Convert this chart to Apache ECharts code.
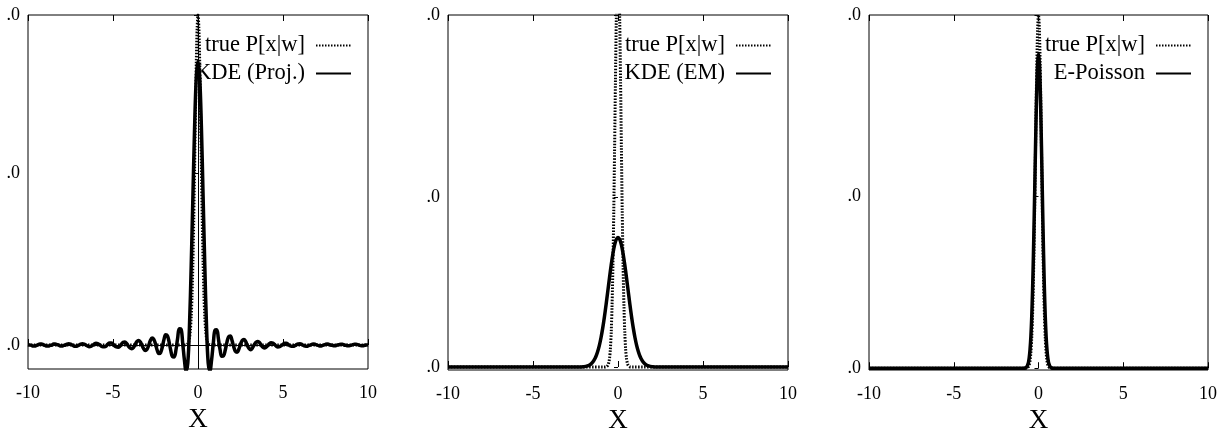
<!DOCTYPE html>
<html>
<head>
<meta charset="utf-8">
<script src="https://cdn.jsdelivr.net/npm/echarts@6/dist/echarts.min.js"></script>
<style>
html, body { margin: 0; padding: 0; background: #fff; }
#chart { width: 1221px; height: 432px; }
</style>
</head>
<body>
<div id="chart"></div>
<script>
// KDE (Proj.), one value every 0.1 from x = -10 to 10
const projStart = -10
const projStep = 0.1
const kdeProj = [
  0.001, 0.000, -0.001, -0.003, -0.003, -0.001, 0.001, 0.003, 0.003, 0.001,
  -0.001, -0.003, -0.003, -0.001, 0.000, 0.003, 0.003, 0.001, 0.000, -0.003,
  -0.003, -0.001, 0.000, 0.003, 0.004, 0.003, 0.000, -0.003, -0.004, -0.003,
  0.000, 0.003, 0.004, 0.003, 0.000, -0.003, -0.005, -0.004, -0.001, 0.003,
  0.005, 0.004, 0.001, -0.003, -0.005, -0.005, -0.003, 0.003, 0.006, 0.006,
  0.003, -0.003, -0.006, -0.007, -0.004, 0.003, 0.008, 0.009, 0.005, -0.003,
  -0.009, -0.011, -0.008, 0.001, 0.010, 0.014, 0.010, 0.000, -0.011, -0.017,
  -0.013, -0.001, 0.014, 0.021, 0.017, 0.003, -0.016, -0.026, -0.023, -0.006,
  0.017, 0.031, 0.028, 0.009, -0.017, -0.035, -0.036, -0.016, 0.020, 0.049,
  0.048, 0.006, -0.045, -0.078, -0.055, 0.06, 0.24, 0.45, 0.66, 0.81,
  0.86,
  0.81, 0.66, 0.45, 0.24, 0.06, -0.055, -0.078, -0.045, 0.005, 0.045,
  0.046, 0.019, -0.015, -0.034, -0.033, -0.016, 0.008, 0.025, 0.027, 0.014,
  -0.005, -0.019, -0.022, -0.013, 0.002, 0.014, 0.017, 0.011, -0.001, -0.010,
  -0.014, -0.009, 0.000, 0.008, 0.011, 0.008, 0.001, -0.006, -0.009, -0.007,
  -0.002, 0.004, 0.007, 0.006, 0.002, -0.003, -0.006, -0.005, -0.002, 0.002,
  0.005, 0.005, 0.002, -0.002, -0.004, -0.004, -0.002, 0.001, 0.003, 0.004,
  0.002, -0.001, -0.003, -0.004, -0.002, 0.000, 0.002, 0.003, 0.002, 0.000,
  -0.002, -0.003, -0.002, 0.000, 0.002, 0.003, 0.002, 0.000, -0.001, -0.002,
  -0.002, 0.000, 0.001, 0.002, 0.002, 0.000, -0.001, -0.002, -0.002, -0.001,
  0.001, 0.002, 0.002, 0.001, -0.001, -0.002, -0.002, -0.001, 0.000, 0.001
]

// true P[x|w]
const truthX = [-10, -0.8, -0.7, -0.6, -0.55, -0.5, -0.45, -0.4, -0.35, -0.3, -0.25, -0.2, -0.15, -0.1, -0.05,
  0, 0.05, 0.1, 0.15, 0.2, 0.25, 0.3, 0.35, 0.4, 0.45, 0.5, 0.55, 0.6, 0.7, 0.8, 10]
const truthY = [0, 0, 0.0005, 0.004, 0.009, 0.021, 0.044, 0.085, 0.151, 0.249, 0.381, 0.539, 0.707, 0.857, 0.962,
  1.0, 0.962, 0.857, 0.707, 0.539, 0.381, 0.249, 0.151, 0.085, 0.044, 0.021, 0.009, 0.004, 0.0005, 0, 0]
// middle panel scale (peak runs past the top)
const truthMidY = [0, 0, 0.0006, 0.0045, 0.011, 0.024, 0.050, 0.097, 0.174, 0.286, 0.438, 0.620, 0.813, 0.986, 1.106,
  1.15, 1.106, 0.986, 0.813, 0.620, 0.438, 0.286, 0.174, 0.097, 0.050, 0.024, 0.011, 0.0045, 0.0006, 0, 0]

// KDE (EM)
const emX = [-10, -2.2, -2.0, -1.9, -1.8, -1.7, -1.6, -1.5, -1.4, -1.3, -1.2, -1.1, -1.0, -0.9, -0.8, -0.7, -0.6,
  -0.5, -0.4, -0.3, -0.2, -0.1, 0, 0.1, 0.2, 0.3, 0.4, 0.5, 0.6, 0.7, 0.8, 0.9, 1.0, 1.1, 1.2, 1.3, 1.4, 1.5,
  1.6, 1.7, 1.8, 1.9, 2.0, 2.2, 10]
const emY = [0, 0, 0.001, 0.0017, 0.003, 0.005, 0.0082, 0.013, 0.020, 0.0298, 0.0433, 0.0609, 0.0832, 0.1104, 0.1422,
  0.1776, 0.2155, 0.2538, 0.2901, 0.3219, 0.3468, 0.3626, 0.368, 0.3626, 0.3468, 0.3219, 0.2901, 0.2538, 0.2155,
  0.1776, 0.1422, 0.1104, 0.0832, 0.0609, 0.0433, 0.0298, 0.020, 0.013, 0.0082, 0.005, 0.003, 0.0017, 0.001, 0, 0]

// E-Poisson
const poissonX = [-10, -0.9, -0.8, -0.7, -0.6, -0.55, -0.5, -0.45, -0.4, -0.35, -0.3, -0.25, -0.2, -0.15, -0.1, -0.05,
  0, 0.05, 0.1, 0.15, 0.2, 0.25, 0.3, 0.35, 0.4, 0.45, 0.5, 0.55, 0.6, 0.7, 0.8, 0.9, 10]
const poissonY = [0, 0, 0.0006, 0.0034, 0.015, 0.0288, 0.0523, 0.0896, 0.145, 0.222, 0.321, 0.438, 0.566, 0.690, 0.795, 0.865,
  0.89, 0.865, 0.795, 0.690, 0.566, 0.438, 0.321, 0.222, 0.145, 0.0896, 0.0523, 0.0288, 0.015, 0.0034, 0.0006, 0, 0]

const yTicksLeft = [0, 0.521, 1]
const yTicksMid = [0, 0.482, 1]
const yTicksRight = [0, 0.486, 1]

const serif = 'Liberation Serif'
const zip = (xs, ys) => xs.map((x, i) => [x, ys[i]])
const projData = kdeProj.map((v, i) => [+(projStart + i * projStep).toFixed(1), v])

const grids = [
  { left: 28, width: 340, top: 15, height: 354 },
  { left: 448, width: 340, top: 15, height: 355 },
  { left: 869, width: 339, top: 15, height: 355 }
]

function xAxes(gi) {
  return [
    {
      gridIndex: gi, type: 'value', min: -10, max: 10, interval: 5,
      name: 'X', nameLocation: 'middle', nameGap: 36,
      nameTextStyle: { fontFamily: serif, fontSize: 27, color: '#000' },
      axisLine: { show: false },
      axisTick: { inside: true, length: 6, lineStyle: { color: '#000' } },
      axisLabel: { fontFamily: serif, fontSize: 18, color: '#000', margin: 15 },
      splitLine: { show: false }
    },
    {
      gridIndex: gi, type: 'value', min: -10, max: 10, interval: 5, position: 'top',
      axisLine: { show: false },
      axisTick: { inside: true, length: 6, lineStyle: { color: '#000' } },
      axisLabel: { show: false },
      splitLine: { show: false }
    }
  ]
}

function yAxis(gi, min, ticks) {
  return {
    gridIndex: gi, type: 'value', min: min, max: 1,
    axisLine: { show: false },
    splitLine: { show: false },
    axisTick: { customValues: ticks, length: 4, lineStyle: { color: '#000' } },
    axisLabel: {
      customValues: ticks, formatter: () => '.0',
      fontFamily: serif, fontSize: 18, color: '#000', margin: 8
    }
  }
}

function legend(right, names) {
  return {
    orient: 'vertical', align: 'right', right: right, top: 34, padding: 0,
    itemWidth: 35, itemHeight: 14, itemGap: 5, selectedMode: false,
    itemStyle: { opacity: 0 },
    data: names,
    textStyle: { fontFamily: serif, fontSize: 22.5, color: '#000', lineHeight: 22, padding: [0, 6, 0, 0] }
  }
}

const truthStyle = { color: '#000', width: 3, type: [1.5, 1.5] }
const solidStyle = { color: '#000', width: 3.5 }

const chart = echarts.init(document.getElementById('chart'))
chart.setOption({
  animation: false,
  backgroundColor: '#fff',
  grid: grids.map(g => Object.assign({ show: true, borderColor: '#000', borderWidth: 1, outerBoundsMode: 'none', containLabel: false }, g)),
  xAxis: [].concat(xAxes(0), xAxes(1), xAxes(2)),
  yAxis: [
    yAxis(0, -0.0727, yTicksLeft),
    yAxis(1, -0.0085, yTicksMid),
    yAxis(2, -0.005, yTicksRight)
  ],
  legend: [
    legend(869, ['true P[x|w]', 'KDE (Proj.)']),
    legend(449, ['true P[x|w]', 'KDE (EM)']),
    legend(29, ['true P[x|w]', 'E-Poisson'])
  ],
  series: [
    {
      name: 'true P[x|w]', type: 'line', xAxisIndex: 0, yAxisIndex: 0,
      data: zip(truthX, truthY), symbol: 'none', smooth: 0.3, color: '#000', lineStyle: truthStyle
    },
    {
      name: 'KDE (Proj.)', type: 'line', xAxisIndex: 0, yAxisIndex: 0,
      data: projData, symbol: 'none', smooth: 0.4, color: '#000', lineStyle: solidStyle,
      markLine: {
        silent: true, symbol: 'none', label: { show: false },
        lineStyle: { color: '#000', width: 1, type: 'solid' },
        data: [{ yAxis: 0 }, { xAxis: 0 }]
      }
    },
    {
      name: 'true P[x|w]', type: 'line', xAxisIndex: 2, yAxisIndex: 1,
      data: zip(truthX, truthMidY), symbol: 'none', smooth: 0.3, color: '#000', lineStyle: truthStyle, z: 3
    },
    {
      name: 'KDE (EM)', type: 'line', xAxisIndex: 2, yAxisIndex: 1,
      data: zip(emX, emY), symbol: 'none', smooth: 0.3, color: '#000', lineStyle: solidStyle
    },
    {
      name: 'true P[x|w]', type: 'line', xAxisIndex: 4, yAxisIndex: 2,
      data: zip(truthX, truthY), symbol: 'none', smooth: 0.3, color: '#000', lineStyle: truthStyle
    },
    {
      name: 'E-Poisson', type: 'line', xAxisIndex: 4, yAxisIndex: 2,
      data: zip(poissonX, poissonY), symbol: 'none', smooth: 0.3, color: '#000', lineStyle: solidStyle
    }
  ]
})
</script>
</body>
</html>
